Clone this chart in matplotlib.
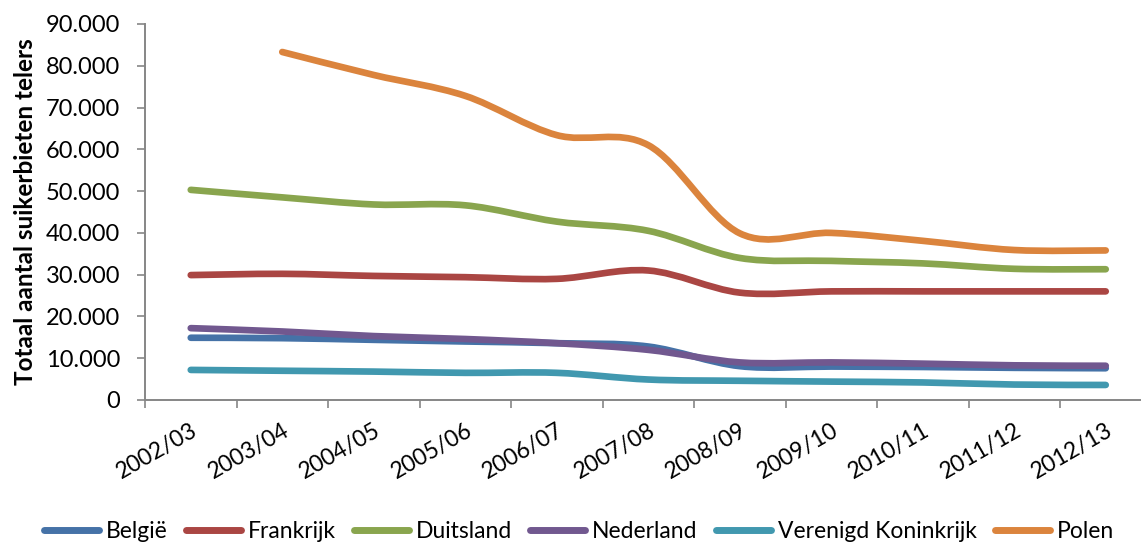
import matplotlib.pyplot as plt
import numpy as np
from matplotlib.path import Path
from matplotlib.patches import PathPatch
from matplotlib.lines import Line2D

plt.rcParams['font.family'] = ['Lato', 'DejaVu Sans']

seasons = ['2002/03', '2003/04', '2004/05', '2005/06', '2006/07', '2007/08',
           '2008/09', '2009/10', '2010/11', '2011/12', '2012/13']

belgie = [14900, 14800, 14400, 14000, 13600, 12800, 8100, 8000, 7900, 7700, 7600]
frankrijk = [29900, 30200, 29700, 29400, 29000, 31000, 25700, 26000, 26000, 26000, 26000]
duitsland = [50300, 48500, 46800, 46600, 42700, 40500, 34000, 33300, 32700, 31400, 31300]
nederland = [17200, 16400, 15300, 14600, 13600, 12000, 9000, 9000, 8700, 8300, 8200]
vk = [7200, 7000, 6800, 6500, 6500, 4900, 4600, 4400, 4200, 3700, 3600]
polen = [None, 83300, 77800, 72800, 63400, 61000, 39900, 40000, 38100, 35900, 35800]

names = ['België', 'Frankrijk', 'Duitsland', 'Nederland', 'Verenigd Koninkrijk', 'Polen']
series = [belgie, frankrijk, duitsland, nederland, vk, polen]
colors = ['#4572A7', '#AA4643', '#89A54E', '#71588F', '#4198AF', '#DB843D']

W, H = 1141, 544
fig = plt.figure(figsize=(W / 100, H / 100), dpi=100)
ax = fig.add_axes([145 / W, (H - 400) / H, 1006.5 / W, 376 / H])


def smooth_path(xs, ys):
    # Excel-like smoothed line: cubic Bezier through every point
    pts = np.column_stack([xs, ys]).astype(float)
    n = len(pts)
    verts = [pts[0]]
    codes = [Path.MOVETO]
    for i in range(n - 1):
        p0 = pts[i - 1] if i > 0 else pts[i]
        p1 = pts[i]
        p2 = pts[i + 1]
        p3 = pts[i + 2] if i + 2 < n else pts[i + 1]
        c1 = p1 + (p2 - p0) / 6
        c2 = p2 - (p3 - p1) / 6
        verts += [c1, c2, p2]
        codes += [Path.CURVE4] * 3
    return Path(verts, codes)


for vals, col in zip(series, colors):
    xs = [i + 0.5 for i, v in enumerate(vals) if v is not None]
    ys = [v for v in vals if v is not None]
    patch = PathPatch(smooth_path(xs, ys), facecolor='none', edgecolor=col,
                      lw=4.8, capstyle='round', joinstyle='round')
    ax.add_patch(patch)

ax.set_xlim(0, 11)
ax.set_ylim(0, 90000)

ax.set_yticks(np.arange(0, 90001, 10000))
ax.set_yticklabels(['0'] + [f'{v // 1000}.000' for v in range(10000, 90001, 10000)])
ax.set_xticks(np.arange(0, 12))
ax.set_xticklabels([])
ax.set_xticks(np.arange(len(seasons)) + 0.5, minor=True)
ax.set_xticklabels(seasons, minor=True, rotation=30, ha='right',
                   rotation_mode='anchor', fontsize=16.5)
ax.tick_params(axis='x', which='minor', length=0, pad=14)
ax.tick_params(axis='both', which='major', direction='out', length=6,
               width=1.2, color='#868686')
ax.tick_params(axis='y', labelsize=17, pad=12)

for s in ['top', 'right']:
    ax.spines[s].set_visible(False)
for s in ['left', 'bottom']:
    ax.spines[s].set_color('#868686')
    ax.spines[s].set_linewidth(1.4)

ax.set_ylabel('Totaal aantal suikerbieten telers', fontsize=17.5,
              fontweight='bold', labelpad=6)

handles = [Line2D([], [], color=c, lw=5, solid_capstyle='round') for c in colors]
fig.legend(handles, names, loc='center', bbox_to_anchor=(579 / W, 1 - 532 / H),
           ncol=6, frameon=False, fontsize=16.5, handlelength=2.4,
           handletextpad=0.3, columnspacing=0.8, borderaxespad=0)

fig.savefig('out.png', dpi=100)
